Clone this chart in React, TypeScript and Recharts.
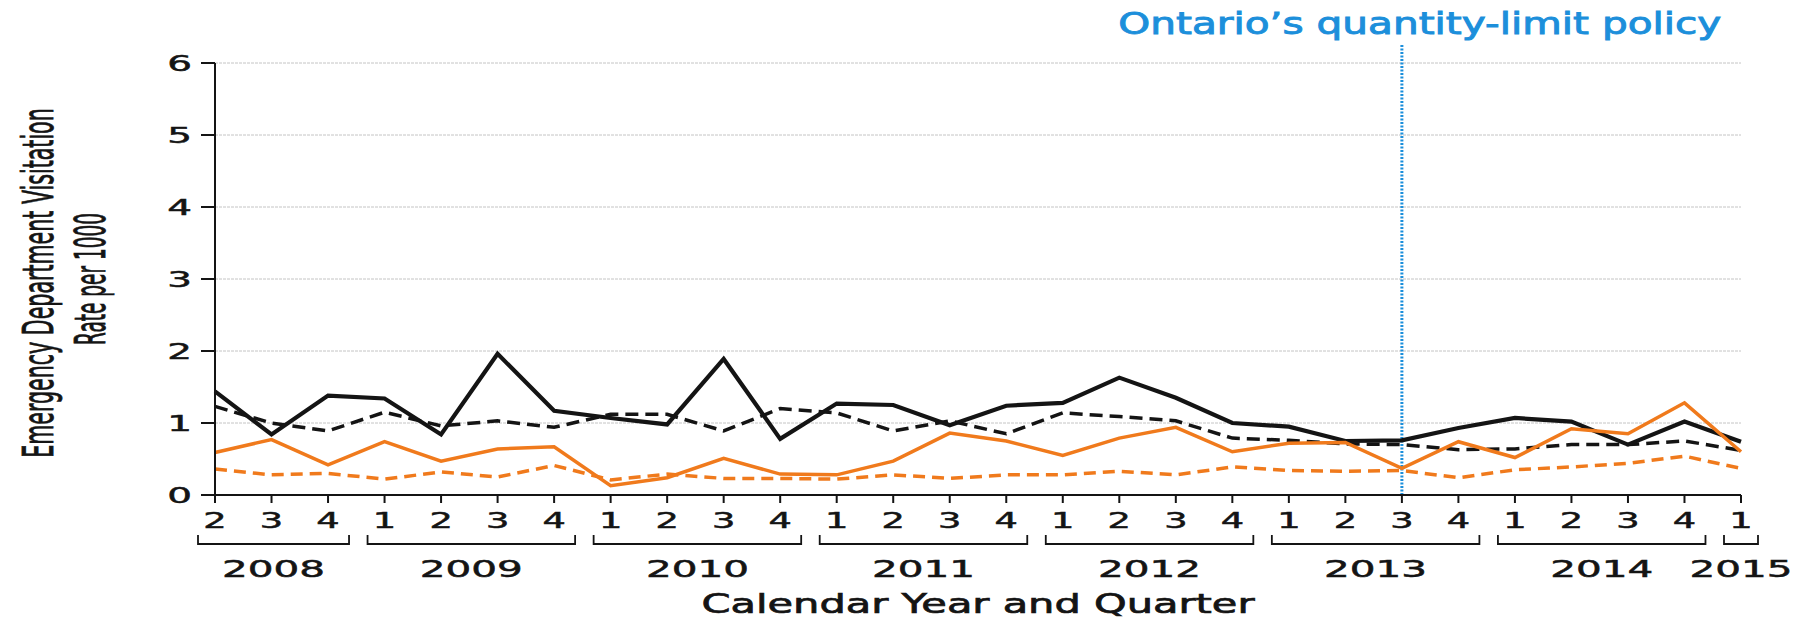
import React from "react";
import { LineChart, Line, XAxis, YAxis, CartesianGrid, ReferenceLine } from "recharts";

const periods = [
  "2008-2", "2008-3", "2008-4",
  "2009-1", "2009-2", "2009-3", "2009-4",
  "2010-1", "2010-2", "2010-3", "2010-4",
  "2011-1", "2011-2", "2011-3", "2011-4",
  "2012-1", "2012-2", "2012-3", "2012-4",
  "2013-1", "2013-2", "2013-3", "2013-4",
  "2014-1", "2014-2", "2014-3", "2014-4",
  "2015-1",
];

const blackSolid = [1.44, 0.84, 1.38, 1.34, 0.84, 1.96, 1.17, 1.07, 0.98, 1.89, 0.78, 1.27, 1.25, 0.97, 1.24, 1.28, 1.63, 1.35, 1.0, 0.95, 0.75, 0.76, 0.93, 1.07, 1.02, 0.7, 1.02, 0.74];
const blackDashed = [1.23, 1.0, 0.89, 1.15, 0.96, 1.03, 0.94, 1.12, 1.12, 0.89, 1.2, 1.14, 0.89, 1.03, 0.85, 1.14, 1.09, 1.03, 0.79, 0.76, 0.71, 0.7, 0.63, 0.64, 0.7, 0.7, 0.75, 0.62];
const orangeSolid = [0.59, 0.77, 0.42, 0.74, 0.47, 0.64, 0.67, 0.13, 0.24, 0.51, 0.29, 0.28, 0.47, 0.86, 0.75, 0.55, 0.79, 0.94, 0.6, 0.72, 0.73, 0.37, 0.74, 0.52, 0.92, 0.85, 1.28, 0.6];
const orangeDashed = [0.36, 0.28, 0.3, 0.22, 0.32, 0.25, 0.41, 0.21, 0.29, 0.23, 0.23, 0.22, 0.28, 0.23, 0.28, 0.28, 0.33, 0.28, 0.39, 0.34, 0.33, 0.34, 0.24, 0.35, 0.39, 0.44, 0.54, 0.37];

const yTicks = [0, 1, 2, 3, 4, 5, 6];
const policyPeriod = "2013-3";
const policyLabel = "Ontario\u2019s quantity-limit policy";
const xTitle = "Calendar Year and Quarter";
const yTitle = ["Emergency Department Visitation", "Rate per 1000"];

const W = 1798;
const H = 619;
const MARGIN = { top: 63, right: 57, bottom: 0, left: 155 };
const Y_AXIS_W = 60;
const X_AXIS_H = 124;
const STEP = (W - MARGIN.left - Y_AXIS_W - MARGIN.right) / (periods.length - 1);

const FONT = "'DejaVu Sans', Verdana, sans-serif";
const INK = "#141414";
const ORANGE = "#f07a1c";
const BLUE = "#1c8fdb";

const data = periods.map((p, i) => ({
  i,
  blackSolid: blackSolid[i],
  blackDashed: blackDashed[i],
  orangeSolid: orangeSolid[i],
  orangeDashed: orangeDashed[i],
}));

const policyIndex = periods.indexOf(policyPeriod);

// the scanned figure is stretched sideways, so text gets stretched too
function T({ x, y, size, len, sx, rot, anchor = "middle", fill = INK, weight = 0.5, children }: any) {
  const common = {
    fontSize: size,
    fontFamily: FONT,
    fill,
    stroke: fill,
    strokeWidth: weight,
    textAnchor: anchor,
  };
  if (sx) {
    const r = rot ? ` rotate(${rot})` : "";
    return (
      <text x={0} y={0} transform={`translate(${x},${y})${r} scale(${sx},1)`} {...common}>
        {children}
      </text>
    );
  }
  return (
    <text x={x} y={y} textLength={len} lengthAdjust="spacingAndGlyphs" {...common}>
      {children}
    </text>
  );
}

function QuarterTick(props: any) {
  const { x, y, payload } = props;
  const idx = payload.value;
  const [year, q] = periods[idx].split("-");
  const first = idx === 0 || periods[idx - 1].split("-")[0] !== year;
  let bracket = null;
  if (first) {
    let n = 0;
    while (idx + n < periods.length && periods[idx + n].startsWith(year)) n++;
    const last = idx + n === periods.length;
    const x0 = x - 17;
    const x1 = x + (n - 1) * STEP + (last ? 17 : 21);
    bracket = (
      <g>
        <path
          d={`M${x0},${y + 30}V${y + 39}H${x1}V${y + 30}`}
          fill="none"
          stroke={INK}
          strokeWidth={1.8}
        />
        <T x={(x0 + x1) / 2} y={y + 72} size={23} len={103}>
          {year}
        </T>
      </g>
    );
  }
  return (
    <g>
      <T x={x} y={y + 23} size={21} sx={1.75}>
        {q}
      </T>
      {bracket}
    </g>
  );
}

function RateTick(props: any) {
  const { x, y, payload } = props;
  return (
    <T x={x - 7} y={y + 8} size={21} sx={1.85} anchor="end">
      {payload.value}
    </T>
  );
}

function XTitle(props: any) {
  const { viewBox } = props;
  return (
    <T x={viewBox.x + viewBox.width / 2} y={viewBox.y + 118} size={27} len={553} weight={0.7}>
      {xTitle}
    </T>
  );
}

function YTitle() {
  return (
    <g>
      <T x={53} y={283} rot={-90} size={42} sx={0.49} weight={0.9}>
        {yTitle[0]}
      </T>
      <T x={105} y={279} rot={-90} size={42} sx={0.44} weight={0.9}>
        {yTitle[1]}
      </T>
    </g>
  );
}

function PolicyLabel(props: any) {
  const { viewBox } = props;
  return (
    <T x={viewBox.x + 18} y={34} size={30} len={603} fill={BLUE} weight={0.9}>
      {policyLabel}
    </T>
  );
}

export default function App() {
  return (
    <div style={{ position: "absolute", left: 0, top: 0, width: W, height: H, background: "#fff" }}>
      <LineChart width={W} height={H} data={data} margin={MARGIN}>
        <CartesianGrid vertical={false} stroke="#c4c4c4" strokeDasharray="3 1" strokeWidth={1} />
        <XAxis
          dataKey="i"
          type="number"
          domain={[0, periods.length - 1]}
          ticks={periods.map((_, i) => i)}
          interval={0}
          height={X_AXIS_H}
          tickSize={8}
          axisLine={{ stroke: INK, strokeWidth: 2 }}
          tickLine={{ stroke: INK, strokeWidth: 2 }}
          tick={<QuarterTick />}
          label={<XTitle />}
        />
        <YAxis
          domain={[0, 6]}
          ticks={yTicks}
          interval={0}
          width={Y_AXIS_W}
          tickSize={14}
          axisLine={{ stroke: INK, strokeWidth: 2 }}
          tickLine={{ stroke: INK, strokeWidth: 2 }}
          tick={<RateTick />}
          label={<YTitle />}
        />
        <ReferenceLine
          segment={[
            { x: policyIndex, y: 0 },
            { x: policyIndex, y: 6.25 },
          ]}
          ifOverflow="visible"
          stroke={BLUE}
          strokeWidth={3}
          strokeDasharray="2 1.5"
          label={<PolicyLabel />}
        />
        <Line dataKey="blackDashed" stroke={INK} strokeWidth={3.5} strokeDasharray="13 7" dot={false} strokeLinejoin="miter" isAnimationActive={false} />
        <Line dataKey="blackSolid" stroke={INK} strokeWidth={4.2} dot={false} strokeLinejoin="miter" isAnimationActive={false} />
        <Line dataKey="orangeDashed" stroke={ORANGE} strokeWidth={3.5} strokeDasharray="12 7" dot={false} strokeLinejoin="miter" isAnimationActive={false} />
        <Line dataKey="orangeSolid" stroke={ORANGE} strokeWidth={3.5} dot={false} strokeLinejoin="miter" isAnimationActive={false} />
      </LineChart>
    </div>
  );
}
